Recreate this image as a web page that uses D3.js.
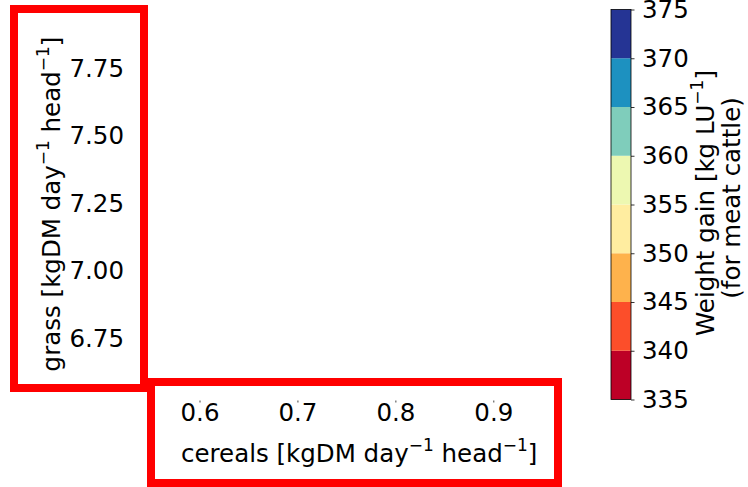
<!DOCTYPE html>
<html>
<head>
<meta charset="utf-8">
<script src="https://cdn.jsdelivr.net/npm/d3@7"></script>
<style>
  html, body { margin: 0; padding: 0; background: #fff; }
  svg { display: block; }
  text { font-family: "DejaVu Sans", sans-serif; fill: #000; }
</style>
</head>
<body>
<svg id="chart" width="748" height="487"></svg>
<script>
// ---- data ----
const xTicks = [0.6, 0.7, 0.8, 0.9];
const yTicks = [6.75, 7.00, 7.25, 7.50, 7.75];
const levelEdges = [335, 340, 345, 350, 355, 360, 365, 370, 375];
const levelColors = ["#bd0026", "#fc4e2a", "#feb24c", "#ffeda0", "#edf8b1", "#7fcdbb", "#1d91c0", "#253494"];
const cbTicks = [335, 340, 345, 350, 355, 360, 365, 370, 375];

const svg = d3.select("#chart");
const FS = 24.5;
const SUP = 17;
const SUPDY = 11;

// ---- scales ----
const x = d3.scaleLinear().domain([0.6, 0.9]).range([199.5, 493.3]);
const y = d3.scaleLinear().domain([6.75, 7.75]).range([338.3, 68.3]);
const cb = d3.scaleLinear().domain([335, 375]).range([399.5, 9.5]);

function supLabel(sel, parts) {
  // parts: array of [text, isSup]
  parts.forEach(([t, s], i) => {
    const prevSup = i > 0 && parts[i - 1][1];
    const ts = sel.append("tspan").text(t);
    if (s) ts.attr("font-size", SUP).attr("dy", -SUPDY);
    else if (prevSup) ts.attr("dy", SUPDY);
  });
}

// ---- x axis (only tiny tick stubs remain visible) ----
const xAxis = svg.append("g")
  .attr("transform", "translate(0,400.5)")
  .call(d3.axisBottom(x).tickValues(xTicks).tickSize(2).tickPadding(3)
        .tickFormat(d3.format(".1f")));
xAxis.select(".domain").remove();
xAxis.selectAll(".tick line").attr("stroke", "#444").attr("stroke-width", 1);
xAxis.selectAll(".tick text").attr("font-size", FS).attr("font-family", "DejaVu Sans")
  .attr("fill", "#000").attr("y", 20.5).attr("dy", 0);

// x label
const xl = svg.append("text").attr("x", 181).attr("y", 461.5).attr("font-size", FS);
supLabel(xl, [["cereals [kgDM day", false], ["\u22121", true], [" head", false], ["\u22121", true], ["]", false]]);

// ---- y axis (labels only) ----
const yAxis = svg.append("g")
  .attr("transform", "translate(124,0)")
  .call(d3.axisLeft(y).tickValues(yTicks).tickSize(0).tickPadding(0)
        .tickFormat(d3.format(".2f")));
yAxis.select(".domain").remove();
yAxis.selectAll(".tick line").remove();
yAxis.selectAll(".tick text").attr("font-size", FS).attr("font-family", "DejaVu Sans").attr("fill", "#000");

// y label
const yl = svg.append("text")
  .attr("transform", "translate(59.5,204) rotate(-90)")
  .attr("text-anchor", "middle").attr("font-size", FS);
supLabel(yl, [["grass [kgDM day", false], ["\u22121", true], [" head", false], ["\u22121", true], ["]", false]]);

// ---- colorbar ----
const cbX = 611, cbW = 20;
const bands = levelColors.map((c, i) => ({lo: levelEdges[i], hi: levelEdges[i + 1], c}));
svg.append("g").selectAll("rect").data(bands).join("rect")
  .attr("x", cbX).attr("width", cbW)
  .attr("y", d => cb(d.hi)).attr("height", d => cb(d.lo) - cb(d.hi))
  .attr("fill", d => d.c);
svg.append("rect").attr("x", cbX).attr("y", cb(375)).attr("width", cbW)
  .attr("height", cb(335) - cb(375)).attr("fill", "none")
  .attr("stroke", "#000").attr("stroke-width", 0.8);

const cbAxis = svg.append("g")
  .attr("transform", `translate(${cbX + cbW},0)`)
  .call(d3.axisRight(cb).tickValues(cbTicks).tickSize(3.5).tickPadding(7.5)
        .tickFormat(d3.format("d")));
cbAxis.select(".domain").remove();
cbAxis.selectAll(".tick line").attr("stroke", "#000").attr("stroke-width", 0.8);
cbAxis.selectAll(".tick text").attr("font-size", FS).attr("font-family", "DejaVu Sans").attr("fill", "#000");

// colorbar label
const cl1 = svg.append("text")
  .attr("transform", "translate(713.5,203) rotate(-90)")
  .attr("text-anchor", "middle").attr("font-size", FS);
supLabel(cl1, [["Weight gain [kg LU", false], ["\u22121", true], ["]", false]]);
svg.append("text")
  .attr("transform", "translate(739.5,198) rotate(-90)")
  .attr("text-anchor", "middle").attr("font-size", FS)
  .text("(for meat cattle)");

// ---- red highlight boxes ----
svg.append("rect").attr("x", 14).attr("y", 9).attr("width", 130).attr("height", 379)
  .attr("fill", "none").attr("stroke", "#ff0000").attr("stroke-width", 8);
svg.append("rect").attr("x", 151).attr("y", 382).attr("width", 407).attr("height", 101)
  .attr("fill", "none").attr("stroke", "#ff0000").attr("stroke-width", 8);
</script>
</body>
</html>
